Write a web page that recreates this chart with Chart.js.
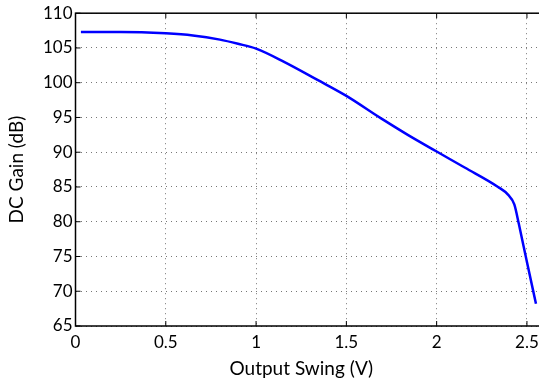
<!DOCTYPE html>
<html>
<head>
<meta charset="utf-8">
<script src="https://cdn.jsdelivr.net/npm/chart.js@4/dist/chart.umd.min.js"></script>
<style>
  html, body { margin: 0; padding: 0; background: #fff; overflow: hidden; }
  #wrap { width: 539px; height: 391px; overflow: hidden; }
  #box { width: 545px; height: 391px; }
</style>
</head>
<body>
<div id="wrap"><div id="box"><canvas id="gain-chart"></canvas></div></div>
<script>
// output swing (V) vs DC gain (dB)
const swing = [0.03, 0.25, 0.5, 0.65, 0.8, 0.9, 1.0, 1.155, 1.34, 1.5, 1.69, 1.84, 2.0, 2.155, 2.34, 2.395, 2.43, 2.455, 2.5, 2.55];
const gain = [107.3, 107.3, 107.1, 106.8, 106.2, 105.6, 104.9, 103.0, 100.4, 98.1, 94.9, 92.5, 90.1, 87.8, 85.0, 83.9, 82.5, 79.7, 74.2, 68.2];
const xTicks = [0, 0.5, 1, 1.5, 2, 2.5];
const xTitle = 'Output Swing (V)';

const font = { family: 'Lato', size: 17 };
const titleFont = { family: 'Lato', size: 19 };

// box around the axes plus small inward tick marks, matlab style
const frame = {
  id: 'frame',
  afterDraw(chart) {
    const { ctx, chartArea: a, scales } = chart;
    ctx.save();
    ctx.strokeStyle = '#000';
    ctx.lineWidth = 1.5;
    ctx.strokeRect(a.left, a.top, a.right - a.left, a.bottom - a.top);
    ctx.lineWidth = 1;
    ctx.beginPath();
    scales.x.ticks.forEach(t => {
      const px = scales.x.getPixelForValue(t.value);
      ctx.moveTo(px, a.bottom); ctx.lineTo(px, a.bottom - 5);
      ctx.moveTo(px, a.top); ctx.lineTo(px, a.top + 5);
    });
    scales.y.ticks.forEach(t => {
      const py = scales.y.getPixelForValue(t.value);
      ctx.moveTo(a.left, py); ctx.lineTo(a.left + 5, py);
    });
    ctx.stroke();

    // x title sits under the middle of the tick range, not the whole box
    const mid = (xTicks[0] + xTicks[xTicks.length - 1]) / 2;
    ctx.fillStyle = '#000';
    ctx.font = titleFont.size + 'px ' + titleFont.family;
    ctx.textAlign = 'center';
    ctx.textBaseline = 'middle';
    ctx.fillText(xTitle, scales.x.getPixelForValue(mid), a.bottom + 43);
    ctx.restore();
  }
};

const ctx = document.getElementById('gain-chart').getContext('2d');

new Chart(ctx, {
  type: 'line',
  data: {
    datasets: [{
      data: swing.map((v, i) => ({ x: v, y: gain[i] })),
      borderColor: '#0000ff',
      borderWidth: 2.5,
      pointRadius: 0,
      cubicInterpolationMode: 'monotone',
      fill: false
    }]
  },
  options: {
    responsive: true,
    maintainAspectRatio: false,
    animation: false,
    layout: { padding: { top: 9, left: 0, right: 0, bottom: 0 } },
    plugins: {
      legend: { display: false },
      tooltip: { enabled: false }
    },
    scales: {
      x: {
        type: 'linear',
        min: 0,
        max: 2.6,
        afterBuildTicks: s => { s.ticks = xTicks.map(v => ({ value: v })); },
        afterFit: s => { s.height = 65; },
        grid: { color: '#777', drawTicks: false, lineWidth: 1 },
        border: { display: false, dash: [1, 4] },
        ticks: { color: '#000', font: font, padding: 6, callback: v => String(v) },
        title: { display: false }
      },
      y: {
        min: 65,
        max: 110,
        afterFit: s => { s.width = 75.5; },
        grid: { color: '#777', drawTicks: false, lineWidth: 1 },
        border: { display: false, dash: [1, 4] },
        ticks: { stepSize: 5, color: '#000', font: font, padding: 3 },
        title: { display: true, text: 'DC Gain (dB)', color: '#000', font: titleFont, padding: { top: 5, bottom: 0 } }
      }
    }
  },
  plugins: [frame]
});
</script>
</body>
</html>
